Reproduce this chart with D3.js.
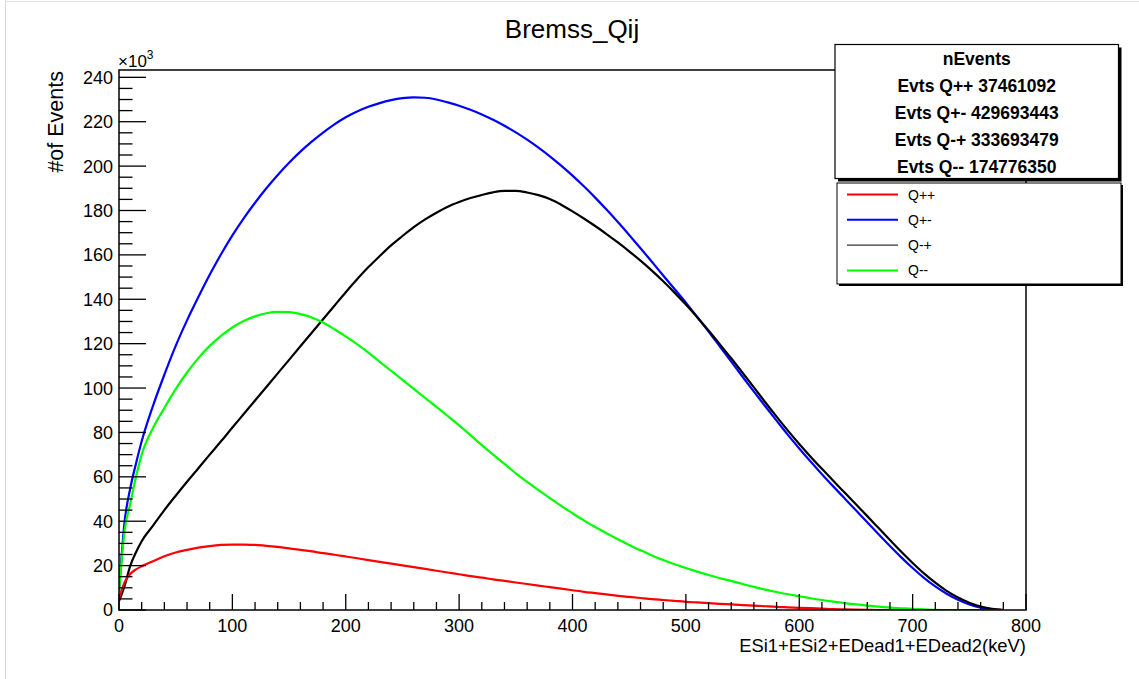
<!DOCTYPE html>
<html>
<head>
<meta charset="utf-8">
<script src="https://cdn.jsdelivr.net/npm/d3@7"></script>
<style>
  html, body { margin: 0; padding: 0; background: #fff; }
  svg { display: block; font-family: "Liberation Sans", Arial, Helvetica, sans-serif; }
</style>
</head>
<body>
<svg id="chart" width="1139" height="679"></svg>
<script>
// ---- data (values in units of 10^3 events) ----
const energy = [0,5,10,15,20,30,40,50,60,70,80,90,100,110,120,130,140,150,160,170,180,190,200,210,220,230,240,250,260,270,280,290,300,310,320,330,340,350,360,370,380,390,400,410,420,430,440,450,460,470,480,490,500,510,520,530,540,550,560,570,580,590,600,610,620,630,640,650,660,670,680,690,700,710,720,730,740,750,760,770,780];

const qPP = [5,12.5,16.3,18.3,19.7,22,24.2,25.9,27.1,28.1,28.8,29.3,29.5,29.5,29.3,28.9,28.4,27.8,27.1,26.4,25.6,24.9,24.1,23.3,22.5,21.7,20.9,20.1,19.3,18.5,17.7,16.9,16.1,15.3,14.6,13.8,13.1,12.4,11.7,11,10.3,9.6,8.9,8.2,7.6,7,6.4,5.9,5.4,4.9,4.5,4.1,3.7,3.4,3.1,2.8,2.5,2.2,2,1.7,1.4,1.2,1,0.8,0.6,0.4,0.3,0.2,0.1,0,0,0,0,0,0,0,0,0,0,0,0];

const qPM = [8,40,55,66,76,92,106,119,130.5,141,151,160.3,168.8,176.5,183.5,190,196,201.5,206.5,211,215.1,218.8,222,224.6,226.7,228.4,229.7,230.6,231,230.8,230,228.7,227.2,225.4,223.3,220.9,218.2,215.2,211.9,208.3,204.4,200.2,195.7,190.9,185.8,180.4,174.8,169,163,156.9,150.7,144.6,138.5,132,125.5,118.7,111.9,105.1,98.4,91.8,85.3,78.9,72.8,66.9,61.2,55.7,50.3,44.9,39.5,34.1,28.8,23.7,18.9,14.5,10.6,7.3,4.6,2.5,1.1,0.3,0];

const qMP = [4,11,20,26,31,38,45,51.5,57.8,63.9,70,76,82.2,88.3,94.4,100.5,106.6,112.7,118.8,124.9,131,137.1,143.2,149,154.5,159.5,164.3,168.5,172.5,176,179,181.7,183.8,185.6,187,188.2,188.8,188.8,188.1,186.9,185.2,182.6,179.6,176.4,173,169.4,165.6,161.6,157.4,152.9,148.1,143,137.6,131.9,125.9,119.7,113.4,106.9,100.3,93.6,87.1,80.8,74.8,69.1,63.6,58.2,52.9,47.6,42.3,36.9,31.5,26.2,21.2,16.5,12.3,8.6,5.6,3.3,1.6,0.5,0];

const qMM = [8,36,48,60,70,82,91,99.5,107,113.5,119,123.5,127.3,130.2,132.3,133.7,134.3,134.2,133.3,131.8,129.5,126.5,123.3,119.8,116,111.8,107.8,103.7,99.6,95.6,91.5,87.4,83.2,78.8,74.3,70,65.8,61.6,57.7,54,50.4,46.9,43.6,40.4,37.4,34.6,31.9,29.3,26.9,24.6,22.5,20.6,18.9,17.3,15.8,14.3,13.1,11.7,10.4,9.2,8.1,7.1,6.2,5.3,4.5,3.8,3.1,2.5,2,1.5,1.1,0.8,0.5,0.3,0.1,0,0,0,0,0,0];

const seriesNames = ["Q++", "Q+-", "Q-+", "Q--"];
const seriesColors = ["#ff0000", "#0000ff", "#000000", "#00ff00"];
const seriesValues = [qPP, qPM, qMP, qMM];

const statsTitle = "nEvents";
const statsLines = ["Evts Q++ 37461092", "Evts Q+- 429693443", "Evts Q-+ 333693479", "Evts Q-- 174776350"];

const xTicks = [0,100,200,300,400,500,600,700,800];
const yTicks = [0,20,40,60,80,100,120,140,160,180,200,220,240];

// ---- layout ----
const svg = d3.select("#chart");
const L = 119, R = 1026, T = 70, B = 610;
const x = d3.scaleLinear().domain([0, 800]).range([L, R]);
const y = d3.scaleLinear().domain([0, 243.3]).range([B, T]);

// canvas faint border
svg.append("line").attr("x1", 5.5).attr("x2", 5.5).attr("y1", 0).attr("y2", 679).attr("stroke", "#d8d8d8");
svg.append("line").attr("x1", 5).attr("x2", 1139).attr("y1", 1.5).attr("y2", 1.5).attr("stroke", "#e4e4e4");

// clip
svg.append("defs").append("clipPath").attr("id", "plotclip")
  .append("rect").attr("x", L).attr("y", T).attr("width", R - L).attr("height", B - T);

// curves
const line = d3.line()
  .x((d, i) => x(energy[i]))
  .y(d => y(d))
  .curve(d3.curveMonotoneX);

const order = [1, 2, 3, 0];
const g = svg.append("g").attr("clip-path", "url(#plotclip)");
order.forEach(k => {
  g.append("path")
    .attr("d", line(seriesValues[k]))
    .attr("fill", "none")
    .attr("stroke", seriesColors[k])
    .attr("stroke-width", 2.2)
    .attr("stroke-linejoin", "round");
});

// frame
svg.append("rect").attr("x", L).attr("y", T).attr("width", R - L).attr("height", B - T)
  .attr("fill", "none").attr("stroke", "#000").attr("stroke-width", 1.5);

// y axis ticks (inward, to the right)
const yg = svg.append("g").attr("transform", `translate(${L},0)`);
d3.range(0, 243, 5).forEach(v => {
  const major = v % 20 === 0;
  yg.append("line").attr("x1", 0).attr("x2", major ? 27 : 13.5)
    .attr("y1", y(v)).attr("y2", y(v)).attr("stroke", "#000").attr("stroke-width", 1.3);
});
yTicks.forEach(v => {
  yg.append("text").attr("x", -6).attr("y", y(v)).attr("dy", "0.36em")
    .attr("text-anchor", "end").attr("font-size", 18).text(v);
});

// x axis ticks (inward, upward)
const xg = svg.append("g");
d3.range(0, 801, 20).forEach(v => {
  const major = v % 100 === 0;
  xg.append("line").attr("x1", x(v)).attr("x2", x(v))
    .attr("y1", B).attr("y2", B - (major ? 16 : 8)).attr("stroke", "#000").attr("stroke-width", 1.3);
});
xTicks.forEach(v => {
  xg.append("text").attr("x", x(v)).attr("y", 631.5)
    .attr("text-anchor", "middle").attr("font-size", 18).text(v);
});

// exponent label
const ex = svg.append("text").attr("x", 118).attr("y", 66.5).attr("font-size", 17);
ex.append("tspan").text("\u00d710");
ex.append("tspan").attr("dy", -8).attr("font-size", 12).text("3");

// titles
svg.append("text").attr("x", 572).attr("y", 38).attr("text-anchor", "middle")
  .attr("font-size", 26).text("Bremss_Qij");
svg.append("text").attr("transform", "translate(63,71) rotate(-90)")
  .attr("text-anchor", "end").attr("font-size", 21.5).text("#of Events");
svg.append("text").attr("x", R).attr("y", 652).attr("text-anchor", "end")
  .attr("font-size", 18.4).text("ESi1+ESi2+EDead1+EDead2(keV)");

// stats box
const sx = 835, sy = 44.5, sw = 283.5, sh = 134;
svg.append("rect").attr("x", sx + 3).attr("y", sy + 3).attr("width", sw).attr("height", sh).attr("fill", "#000");
svg.append("rect").attr("x", sx).attr("y", sy).attr("width", sw).attr("height", sh)
  .attr("fill", "#fff").attr("stroke", "#000").attr("stroke-width", 1.2);
const statRows = [statsTitle].concat(statsLines);
statRows.forEach((t, i) => {
  svg.append("text").attr("x", sx + sw / 2).attr("y", 65 + i * 27)
    .attr("text-anchor", "middle").attr("font-size", 17.5).attr("font-weight", "bold").text(t);
});

// legend box
const lx = 837, ly = 183, lw = 284, lh = 101;
svg.append("rect").attr("x", lx + 2).attr("y", ly + 2).attr("width", lw).attr("height", lh).attr("fill", "#000");
svg.append("rect").attr("x", lx).attr("y", ly).attr("width", lw).attr("height", lh)
  .attr("fill", "#fff").attr("stroke", "#000").attr("stroke-width", 1);
seriesNames.forEach((name, i) => {
  const cy = 194.5 + i * 25.3;
  svg.append("line").attr("x1", 847).attr("x2", 898).attr("y1", cy).attr("y2", cy)
    .attr("stroke", seriesColors[i]).attr("stroke-width", i === 2 ? 1 : 2);
  svg.append("text").attr("x", 908).attr("y", cy).attr("dy", "0.36em")
    .attr("font-size", 14).text(name);
});
</script>
</body>
</html>
